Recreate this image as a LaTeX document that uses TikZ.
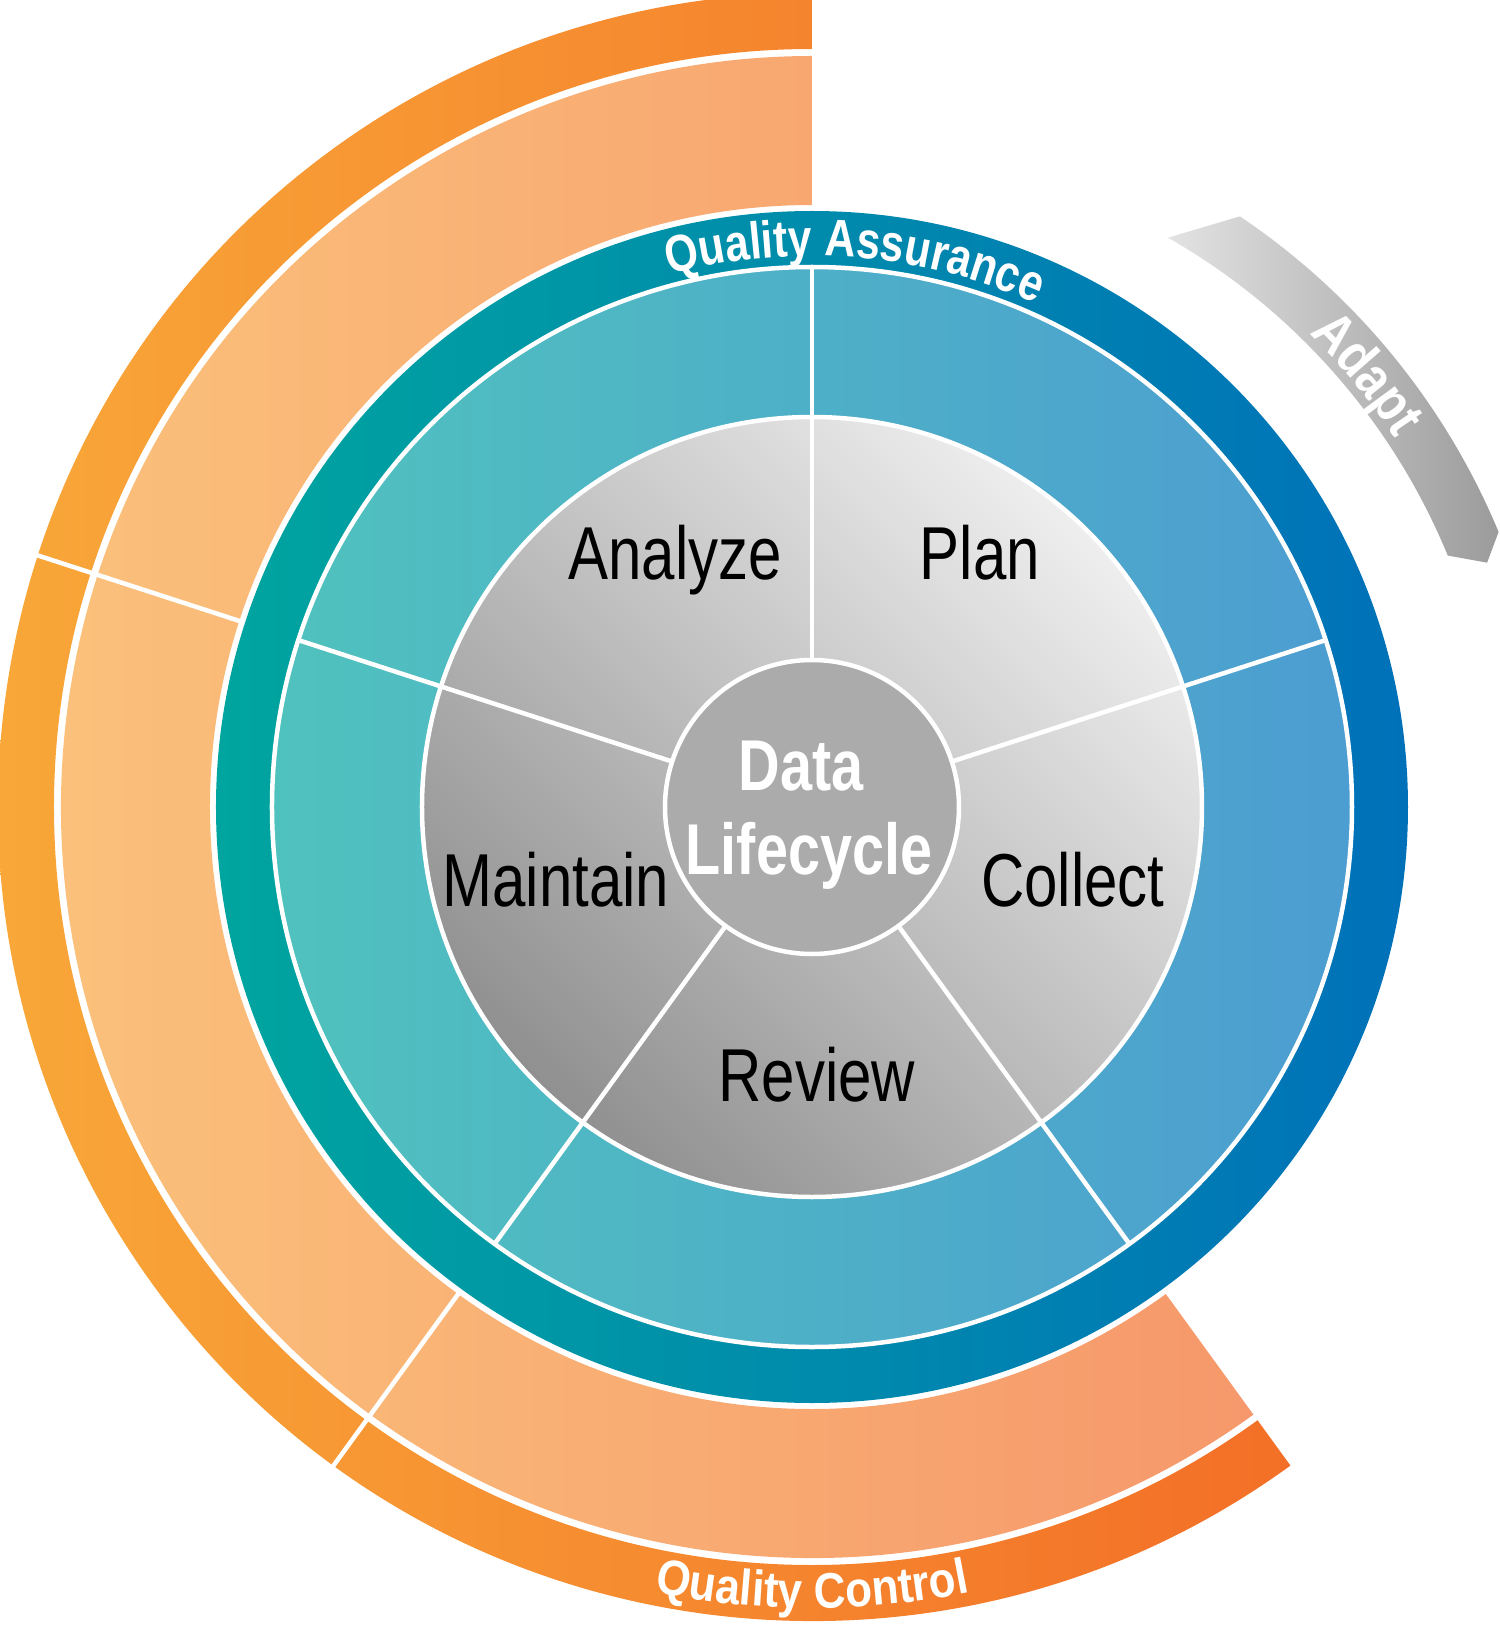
\documentclass[tikz,border=0pt]{standalone}
\usepackage{fontspec}
\setmainfont{Liberation Sans}
\newfontfamily\lblfont[FakeStretch=0.8]{Liberation Sans}
\newfontfamily\arcfont[FakeStretch=0.82]{Liberation Sans}
\newfontfamily\qcfont[FakeStretch=0.88]{Liberation Sans}
\newfontfamily\adfont[FakeStretch=0.86]{Liberation Sans}
\usetikzlibrary{decorations.text}
\definecolor{dorL}{HTML}{F9AC3A}
\definecolor{dorR}{HTML}{F36F27}
\definecolor{lorL}{HTML}{FBC47C}
\definecolor{lorR}{HTML}{F6986B}
\definecolor{qaL}{HTML}{00A59F}
\definecolor{qaR}{HTML}{0071B9}
\definecolor{ltL}{HTML}{50C2BE}
\definecolor{ltR}{HTML}{4C9DD1}
\definecolor{gyD}{HTML}{909090}
\definecolor{gyL}{HTML}{EEEEEE}
\definecolor{core}{HTML}{ABABAB}
\definecolor{adL}{HTML}{E3E3E3}
\definecolor{adR}{HTML}{9B9B9B}
\begin{document}
\begin{tikzpicture}[x=1pt,y=1pt,
  sepline/.style={white,line width=4.5pt},
  lbl/.style={inner sep=0pt,anchor=base,font=\fontsize{75}{80}\selectfont\lblfont},
  corelbl/.style={inner sep=0pt,anchor=base,text=white,font=\fontsize{72}{80}\selectfont\lblfont\bfseries}]
\useasboundingbox (-812,-819) rectangle (688,807);

% orange bands (Quality Control)
\shade[left color=dorL,right color=dorR] (90:758pt) arc[start angle=90,end angle=306,radius=758pt] -- (306:814pt) arc[start angle=306,end angle=90,radius=814pt] -- cycle;
\shade[left color=lorL,right color=lorR] (90:602pt) arc[start angle=90,end angle=306,radius=602pt] -- (306:751pt) arc[start angle=306,end angle=90,radius=751pt] -- cycle;
\draw[sepline] (162:598pt) -- (162:818pt);
\draw[sepline] (234:598pt) -- (234:818pt);

% quality assurance ring
\shade[left color=qaL,right color=qaR] (0,0) circle[radius=596pt];
% light teal ring
\shade[left color=ltL,right color=ltR] (0,0) circle[radius=540pt];
\draw[sepline] (0,0) circle[radius=540pt];
% gray ring
\shade[bottom color=gyD,top color=gyL,shading angle=-45] (0,0) circle[radius=390pt];
\draw[sepline] (0,0) circle[radius=390pt];
\foreach \a in {90,18,-54,-126,162} \draw[sepline] (\a:147pt) -- (\a:540pt);
% core
\fill[core] (0,0) circle[radius=147pt];
\draw[sepline] (0,0) circle[radius=147pt];

% Adapt arrow
\shade[left color=adL,right color=adR,shift={(33,3)}] (60.3:652pt) arc[start angle=60.3,end angle=22.4,radius=652pt] -- (20.6:686pt) -- (22.6:708pt) arc[start angle=22.6,end angle=56.1,radius=708pt] -- cycle;

% curved texts
\path[decorate,decoration={text along path,text align=center,
  text={|\color{white}\fontsize{52}{52}\selectfont\arcfont\bfseries|Quality Assurance}}]
  (125:551pt) arc[start angle=125,end angle=46,radius=551pt];
\path[decorate,decoration={text along path,text align=center,
  text={|\color{white}\fontsize{50}{50}\selectfont\qcfont\bfseries|Quality Control}}]
  (-135:801pt) arc[start angle=-135,end angle=-45,radius=801pt];
\path[shift={(33,3)},decorate,decoration={text along path,text align=center,
  text={|\color{white}\fontsize{56}{56}\selectfont\adfont\bfseries|Adapt}}]
  (75:661pt) arc[start angle=75,end angle=4,radius=661pt];

% labels
\node[lbl] (analyze) at (-137,228) {Analyze};
\node[lbl] (plan) at (168,228) {Plan};
\node[lbl] (maintain) at (-256,-99) {Maintain};
\node[lbl] (collect) at (261,-99) {Collect};
\node[lbl] (review) at (5,-294) {Review};
\node[corelbl] (data) at (-11,17) {Data};
\node[corelbl] (life) at (-3,-67) {Lifecycle};
\end{tikzpicture}
\end{document}
